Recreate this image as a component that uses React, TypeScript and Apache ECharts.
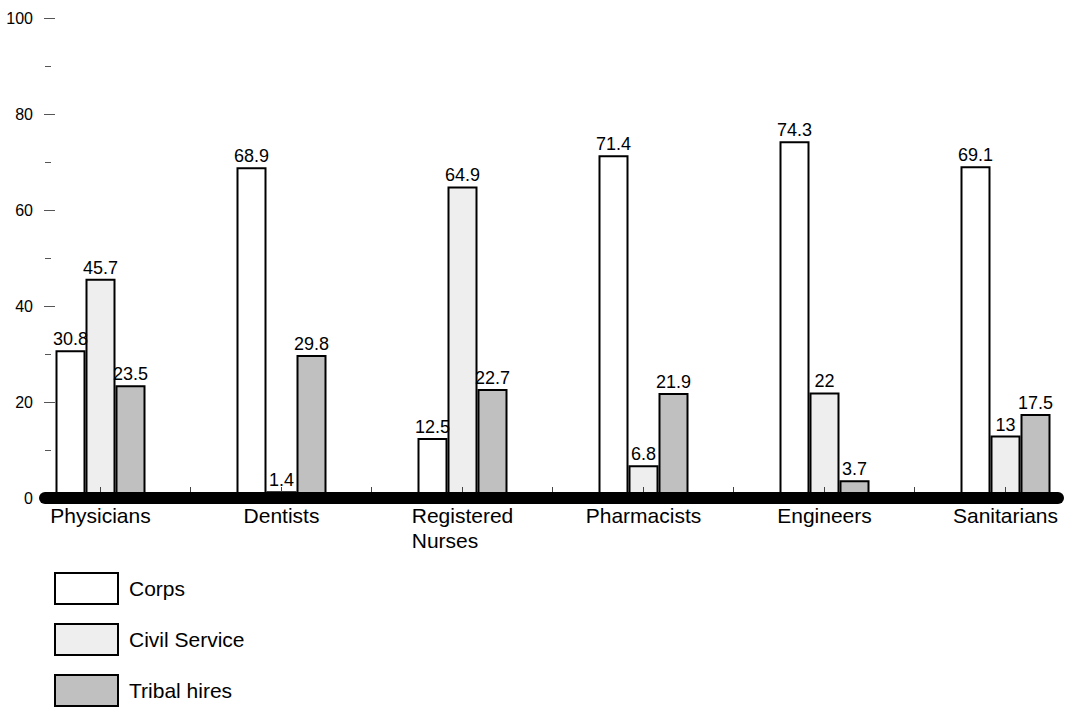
import React, { useEffect, useRef } from 'react';
import * as echarts from 'echarts';

const categories = ['Physicians', 'Dentists', 'Registered\nNurses', 'Pharmacists', 'Engineers', 'Sanitarians'];
const corps = [30.8, 68.9, 12.5, 71.4, 74.3, 69.1];
const civilService = [45.7, 1.4, 64.9, 6.8, 22, 13];
const tribalHires = [23.5, 29.8, 22.7, 21.9, 3.7, 17.5];
const seriesNames = ['Corps', 'Civil Service', 'Tribal hires'];
const seriesColors = ['#ffffff', '#eeeeee', '#c0c0c0'];

const FONT = 'Liberation Sans, Arial, sans-serif';

export default function App() {
  const ref = useRef<HTMLDivElement>(null);
  useEffect(() => {
    if (!ref.current) return;
    const chart = echarts.init(ref.current, null, { renderer: 'svg' });
    const data = [corps, civilService, tribalHires];
    chart.setOption({
      animation: false,
      backgroundColor: '#ffffff',
      textStyle: { fontFamily: FONT, color: '#000' },
      grid: [
        { left: 10, top: 18, width: 1086, height: 480 },
        { left: 45, top: 18, width: 1013, height: 480 },
        { left: 100, top: 18, width: 905, height: 480 },
      ],
      legend: {
        data: seriesNames,
        orient: 'vertical',
        left: 54,
        top: 572,
        padding: 0,
        itemWidth: 63,
        itemHeight: 31,
        itemGap: 18,
        icon: 'rect',
        textStyle: { fontSize: 21, color: '#000', fontFamily: FONT, padding: [0, 0, 0, 6] },
      },
      xAxis: [
        {
          type: 'category',
          gridIndex: 0,
          data: categories,
          axisLine: { show: false },
          axisTick: { show: false },
          axisLabel: {
            interval: 0,
            hideOverlap: false,
            margin: 5,
            fontSize: 21,
            color: '#000',
            fontFamily: FONT,
            lineHeight: 25,
            formatter: (v: string) => v.split('\n').map((s) => '{l|' + s + '}').join('\n'),
            rich: { l: { align: 'left', fontSize: 21, lineHeight: 25, fontFamily: FONT, color: '#000' } },
          },
        },
        {
          type: 'value',
          gridIndex: 1,
          min: 0,
          max: 1,
          z: 20,
          axisLine: { show: true, onZero: false, lineStyle: { color: '#000', width: 12, cap: 'round' } },
          axisTick: { show: false },
          axisLabel: { show: false },
          splitLine: { show: false },
        },
        {
          type: 'value',
          gridIndex: 2,
          min: 1,
          max: 11,
          interval: 1,
          z: 12,
          axisLine: { show: false, onZero: false },
          axisTick: { show: true, inside: true, length: 11, lineStyle: { color: '#444', width: 1 } },
          axisLabel: { show: false },
          splitLine: { show: false },
        },
      ],
      yAxis: [
        {
          type: 'value',
          gridIndex: 0,
          min: 0,
          max: 100,
          interval: 20,
          offset: -45,
          axisLine: { show: false },
          axisTick: { show: true, length: 11, lineStyle: { color: '#555', width: 1 } },
          axisLabel: { margin: 22, fontSize: 16, color: '#000', fontFamily: FONT },
          splitLine: { show: false },
        },
        {
          type: 'value',
          gridIndex: 1,
          min: 0,
          max: 100,
          interval: 10,
          offset: -6,
          axisLine: { show: false },
          axisTick: { show: true, length: 6, lineStyle: { color: '#555', width: 1 } },
          axisLabel: { show: false },
          splitLine: { show: false },
        },
        { type: 'value', gridIndex: 2, min: 0, max: 100, show: false },
      ],
      series: seriesNames.map((name, i) => ({
        name,
        type: 'bar',
        z: 1,
        xAxisIndex: 0,
        yAxisIndex: 0,
        data: data[i],
        barWidth: 30,
        barGap: '0%',
        itemStyle: { color: seriesColors[i], borderColor: '#000', borderWidth: 2 },
        label: { show: true, position: 'top', distance: 2, fontSize: 18, color: '#000', fontFamily: FONT },
      })),
    });
    return () => chart.dispose();
  }, []);
  return (
    <div style={{ position: 'absolute', left: 0, top: 0, width: 1065, height: 709, overflow: 'hidden' }}>
      <div ref={ref} style={{ width: 1110, height: 780 }} />
    </div>
  );
}
